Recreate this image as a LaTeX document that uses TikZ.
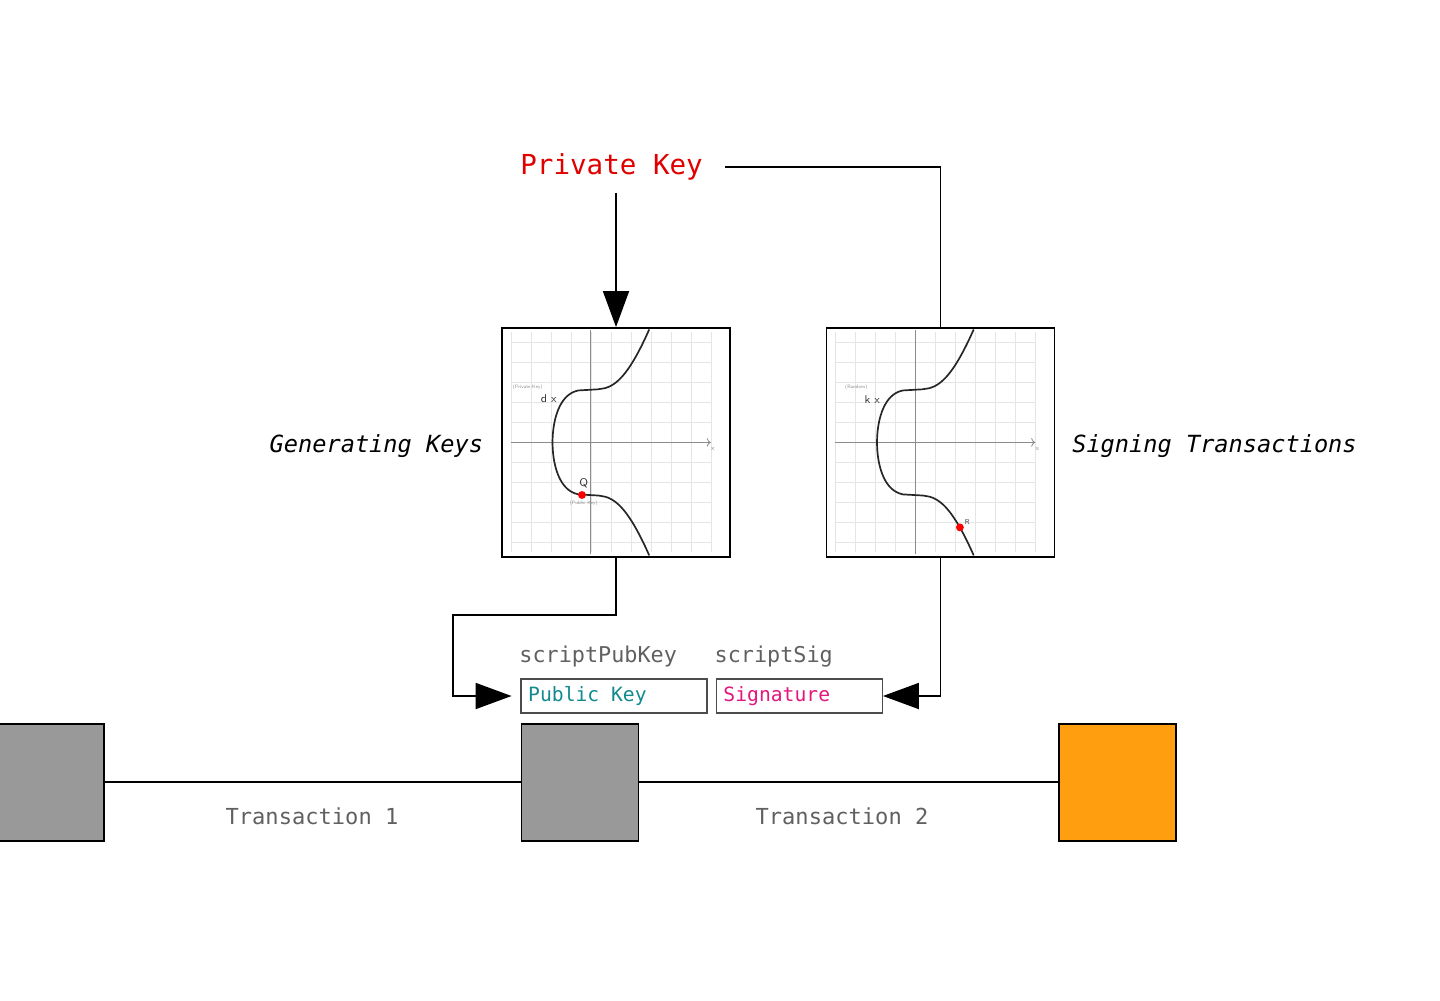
\documentclass[tikz,border=0pt]{standalone}
\usepackage{fontspec}
\setmainfont{DejaVu Sans}
\setmonofont{DejaVu Sans Mono}
\usetikzlibrary{shapes,arrows,arrows.meta,positioning,calc}

\definecolor{keyred}{HTML}{E00000}
\definecolor{pubteal}{HTML}{128A8E}
\definecolor{sigpink}{HTML}{E3177E}
\definecolor{txtgray}{HTML}{606060}
\definecolor{blockgray}{HTML}{999999}
\definecolor{blockorange}{HTML}{FF9E0F}

\begin{document}
\begin{tikzpicture}[node distance=1cm, auto]

% Define styles
\tikzstyle{keytext} = [font=\ttfamily\fontsize{19.6}{22}\selectfont, text=keyred, inner xsep=0.55cm, inner ysep=0.3cm]
\tikzstyle{sidetext} = [font=\ttfamily\itshape\fontsize{16.8}{19}\selectfont, text=black]
\tikzstyle{scripttext} = [font=\ttfamily\fontsize{15.5}{18}\selectfont, text=txtgray, inner sep=0pt]
\tikzstyle{txtext} = [font=\ttfamily\fontsize{15.7}{18}\selectfont, text=txtgray]
\tikzstyle{graphbox} = [rectangle, draw=black, line width=1.2pt, minimum width=5.7cm, minimum height=5.725cm]
\tikzstyle{scriptbox} = [rectangle, draw=black!70, line width=0.9pt, minimum height=0.85cm, inner xsep=0.18cm, font=\ttfamily\fontsize{14}{16}\selectfont]
\tikzstyle{block} = [rectangle, draw=black, line width=1pt, minimum size=2.925cm, fill=blockgray]
\tikzstyle{arrow} = [line width=1.3pt, -{Triangle[length=0.9cm, width=0.65cm]}]
\tikzstyle{line} = [line width=1.3pt]
\tikzstyle{gridline} = [black!10, line width=0.4pt]
\tikzstyle{axisline} = [black!45, line width=0.6pt]
\tikzstyle{curveline} = [black!85, line width=1.2pt]
\tikzstyle{tinytext} = [font=\sffamily\fontsize{3.5}{4}\selectfont, text=black!45, inner sep=0pt]
\tikzstyle{pointtext} = [font=\sffamily\fontsize{8}{9}\selectfont, text=black!80, inner sep=0pt]

% Page frame
\clip (0,0) rectangle (36,-25);

% Top: Private Key
\node (pk) [keytext] at (15.29,-4.18) {Private Key};

% Curve graphs
\node (genbox) [graphbox] at (15.4,-11.06) {};
\node (signbox) [graphbox, right=2.37cm of genbox] {};
\node (genlabel) [sidetext, left=0.33cm of genbox, yshift=-0.08cm] {Generating Keys};
\node (signlabel) [sidetext, right=0.3cm of signbox, yshift=-0.08cm] {Signing Transactions};

\foreach \b in {genbox,signbox} {
  \begin{scope}[shift={($(\b.center)+(-0.63,0)$)}, x=0.5cm, y=0.5cm]
    \foreach \i in {-4,...,6} \draw [gridline] (\i,-5.5) -- (\i,5.5);
    \foreach \j in {-5,...,5} \draw [gridline] (-4,\j) -- (6,\j);
    \draw [axisline, ->] (-4,0) -- (6,0);
    \draw [axisline] (0,-5.6) -- (0,5.6);
    \node [tinytext, font=\sffamily\fontsize{5}{6}\selectfont] at (6.1,-0.35) {x};
    \draw [curveline] plot[domain=-5.65:5.65, samples=201, variable=\t]
      ({(((\t)*(\t)-7)>0?1:-1)*pow(abs((\t)*(\t)-7),1/3)}, {\t});
  \end{scope}
}

% Labels on the key graph
\begin{scope}[shift={($(genbox.center)+(-0.63,0)$)}, x=0.5cm, y=0.5cm]
  \node [tinytext] at (-3.15,2.75) {(Private Key)};
  \node [pointtext] at (-2.1,2.2) {d x};
  \fill [red] (-0.44,-2.63) circle (2.8pt);
  \node [pointtext] at (-0.35,-2.05) {Q};
  \node [tinytext] at (-0.35,-3.05) {(Public Key)};
\end{scope}

% Labels on the signing graph
\begin{scope}[shift={($(signbox.center)+(-0.63,0)$)}, x=0.5cm, y=0.5cm]
  \node [tinytext] at (-2.95,2.75) {(Random)};
  \node [pointtext] at (-2.15,2.15) {k x};
  \fill [red] (2.23,-4.25) circle (2.8pt);
  \node [pointtext, font=\sffamily\fontsize{5}{6}\selectfont] at (2.6,-4.0) {R};
\end{scope}

% Scripts
\node (pubkey) [scriptbox, text=pubteal] at (15.35,-17.4) {\makebox[4.29cm][l]{Public Key}};
\node (sig) [scriptbox, text=sigpink, right=0.2cm of pubkey] {\makebox[3.79cm][l]{Signature}};
\node (scriptpub) [scripttext, anchor=south west] at ($(pubkey.north west)+(-0.03,0.28)$) {scriptPubKey};
\node (scriptsig) [scripttext, anchor=south west] at ($(sig.north west)+(-0.03,0.28)$) {scriptSig};

% Key connections
\draw [arrow] (pk.south -| genbox.north) -- (genbox.north);
\draw [line] (pk.east) -| (signbox.north);
\coordinate (bend) at (11.325,-15.375);
\draw [arrow, shorten >=0.22cm] (genbox.south) |- (bend) |- (pubkey.west);
\draw [arrow] (signbox.south) |- (sig.east);

% Transaction chain
\node (block1) [block] at (14.5,-19.56) {};
\node (block0) [block, left=10.4cm of block1] {};
\node (block2) [block, fill=blockorange, right=10.475cm of block1] {};
\draw [line] (block0) -- (block1);
\draw [line] (block1) -- (block2);
\node (tx1) [txtext] at (7.8,-20.4) {Transaction 1};
\node (tx2) [txtext] at (21.05,-20.4) {Transaction 2};

\end{tikzpicture}
\end{document}
